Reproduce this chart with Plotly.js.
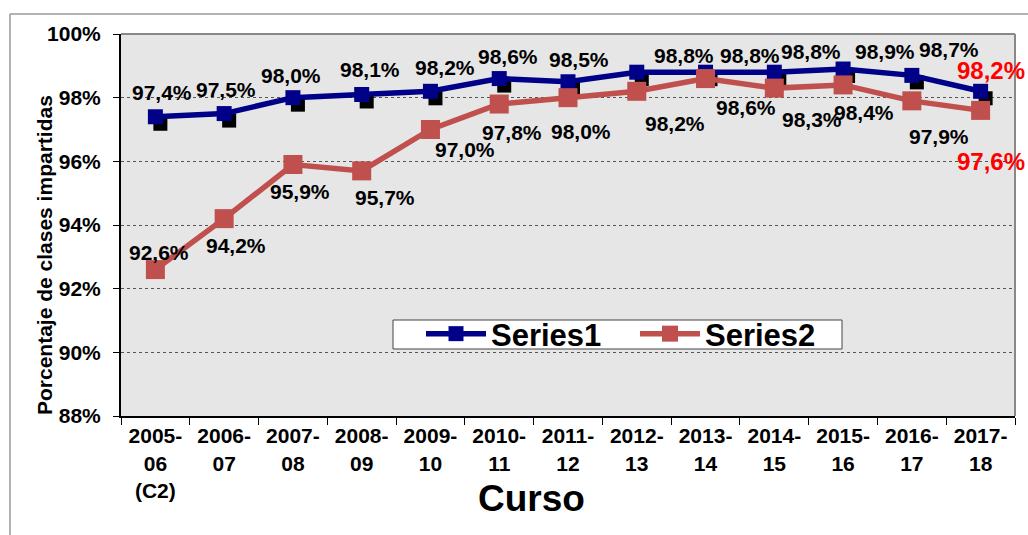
<!DOCTYPE html>
<html>
<head>
<meta charset="utf-8">
<script src="https://cdn.plot.ly/plotly-3.0.1.min.js"></script>
<style>html,body{margin:0;padding:0;background:#fff;}#chart{width:1028px;height:535px;}</style>
</head>
<body>
<div id="chart"></div>
<script>
// ---- data ----
const categories = ["2005-<br>06<br>(C2)","2006-<br>07","2007-<br>08","2008-<br>09","2009-<br>10","2010-<br>11","2011-<br>12","2012-<br>13","2013-<br>14","2014-<br>15","2015-<br>16","2016-<br>17","2017-<br>18"];
const series1 = [97.4, 97.5, 98.0, 98.1, 98.2, 98.6, 98.5, 98.8, 98.8, 98.8, 98.9, 98.7, 98.2];
const series2 = [92.6, 94.2, 95.9, 95.7, 97.0, 97.8, 98.0, 98.2, 98.6, 98.3, 98.4, 97.9, 97.6];
const seriesNames = ["Series1", "Series2"];
const yTicks = [88, 90, 92, 94, 96, 98, 100];

// label offsets (pixels) for data labels
const s1Shift = [[7,-24],[2,-24],[-2,-22],[8,-25],[15,-24],[9,-22],[11,-22],[47,-17],[44,-17],[37,-21],[42,-18],[37,-26],[10,-21]];
const s2Shift = [[4,-17],[12,27],[7,27],[23,27],[35,20],[13,28],[13,34],[38,32],[40,29],[38,31],[21,28],[27,36],[10,51]];

const FONT = "Liberation Sans, Arial, sans-serif";
const BLUE = "#000088";
const RED = "#C0504D";

// geometry
const L = 121, R = 13, T = 34, B = 119, W = 1028, H = 535;
const pw = W - L - R, ph = H - T - B;
const nCat = categories.length;
const catPx = pw / nCat;
const yMin = 88, yMax = 100;
const valPx = ph / (yMax - yMin);
const shX = 5, shY = 7; // shadow offset
const px2x = p => (p - L) / pw;
const py2y = p => (H - B - p) / ph;

const fmt = v => v.toFixed(1).replace('.', ',') + '%';

const traces = [
  {x: categories, y: series1, xaxis: 'x', yaxis: 'y', mode: 'markers', marker: {opacity: 0}, showlegend: false, hoverinfo: 'skip'},
  {x: categories, y: series1, xaxis: 'x2', yaxis: 'y2', mode: 'markers', type: 'scatter',
   marker: {symbol: 'square', size: 14, color: '#000'}, showlegend: false, hoverinfo: 'skip', cliponaxis: false},
  {x: categories, y: series1, xaxis: 'x3', yaxis: 'y3', name: seriesNames[0], mode: 'lines+markers',
   line: {color: BLUE, width: 5.5}, marker: {symbol: 'square', size: 15, color: BLUE}, cliponaxis: false},
  {x: categories, y: series2, xaxis: 'x3', yaxis: 'y3', name: seriesNames[1], mode: 'lines+markers',
   line: {color: RED, width: 5.5}, marker: {symbol: 'square', size: 19, color: RED}, cliponaxis: false}
];

const annotations = [];
function addLabels(vals, shifts) {
  vals.forEach((v, i) => {
    const last = i === nCat - 1;
    annotations.push({x: categories[i], y: v, xref: 'x3', yref: 'y3', text: fmt(v), showarrow: false,
      xshift: shifts[i][0], yshift: -shifts[i][1],
      font: {family: FONT, size: last ? 24 : 21, weight: 700, color: last ? '#FF0000' : '#000'}});
  });
}
addLabels(series1, s1Shift);
addLabels(series2, s2Shift);
annotations.push({xref: 'paper', yref: 'paper', x: px2x(531), y: py2y(498), text: 'Curso',
  showarrow: false, xanchor: 'center', yanchor: 'middle', font: {family: FONT, size: 37, weight: 700, color: '#000'}});
annotations.push({xref: 'paper', yref: 'paper', x: px2x(44), y: py2y(255), text: 'Porcentaje de clases impartidas',
  textangle: -90, showarrow: false, xanchor: 'center', yanchor: 'middle', font: {family: FONT, size: 21, weight: 700, color: '#000'}});

const hidden = {visible: false, fixedrange: true};

const layout = {
  width: W, height: H,
  margin: {l: L, r: R, t: T, b: B, pad: 0},
  paper_bgcolor: '#fff',
  plot_bgcolor: 'rgba(0,0,0,0)',
  showlegend: true,
  font: {family: FONT, color: '#000'},
  xaxis: {type: 'category', domain: [0, 1], range: [-0.5, nCat - 0.5], tickson: 'boundaries', ticks: 'outside', ticklen: 7,
    tickcolor: '#000', tickwidth: 1, showline: true, linecolor: '#000', linewidth: 2, showgrid: false, zeroline: false,
    tickfont: {family: FONT, size: 21, weight: 700, color: '#000'}, fixedrange: true},
  yaxis: {domain: [0, 1], range: [yMin, yMax], tickvals: yTicks, ticktext: yTicks.map(t => t + '%'), ticks: 'outside', ticklen: 6,
    tickcolor: '#000', showline: true, linecolor: '#000', linewidth: 2, showgrid: true, gridcolor: '#555', griddash: 'dot',
    gridwidth: 1, zeroline: false, ticklabelstandoff: 8, tickfont: {family: FONT, size: 21, weight: 700, color: '#000'}, fixedrange: true},
  xaxis2: Object.assign({type: 'category', anchor: 'y2', domain: [shX / pw, 1], range: [-0.5, nCat - 0.5 - shX / catPx]}, hidden),
  yaxis2: Object.assign({anchor: 'x2', domain: [0, 1 - shY / ph], range: [yMin + shY / valPx, yMax]}, hidden),
  xaxis3: Object.assign({type: 'category', anchor: 'y3', domain: [0, 1], range: [-0.5, nCat - 0.5]}, hidden),
  yaxis3: Object.assign({anchor: 'x3', domain: [0, 1], range: [yMin, yMax]}, hidden),
  legend: {orientation: 'h', x: px2x(421), y: py2y(334), xanchor: 'left', yanchor: 'middle',
    bgcolor: 'rgba(0,0,0,0)', borderwidth: 0, itemwidth: 60, entrywidth: 139, entrywidthmode: 'pixels',
    font: {family: FONT, size: 31, weight: 700, color: '#000'}},
  annotations: annotations,
  shapes: [
    {type: 'rect', xref: 'paper', yref: 'paper', x0: 0, x1: 1, y0: 0, y1: 1, layer: 'below', fillcolor: '#e6e6e6', line: {width: 0}},
    {type: 'line', xref: 'paper', yref: 'paper', x0: 0, x1: 1, y0: 1, y1: 1, line: {color: '#888', width: 2}},
    {type: 'line', xref: 'paper', yref: 'paper', x0: 1, x1: 1, y0: 0, y1: 1, line: {color: '#888', width: 2}},
    {type: 'rect', xref: 'paper', yref: 'paper', x0: px2x(393), x1: px2x(842), y0: py2y(349), y1: py2y(320), layer: 'above', fillcolor: '#fff', line: {color: '#444', width: 1}},
    {type: 'line', xref: 'paper', yref: 'paper', x0: px2x(10), x1: px2x(W), y0: py2y(14), y1: py2y(14), line: {color: '#999', width: 1.5}},
    {type: 'line', xref: 'paper', yref: 'paper', x0: px2x(10), x1: px2x(10), y0: py2y(14), y1: py2y(H), line: {color: '#999', width: 1.5}}
  ]
};

Plotly.newPlot('chart', traces, layout, {displayModeBar: false, staticPlot: true});
</script>
</body>
</html>
